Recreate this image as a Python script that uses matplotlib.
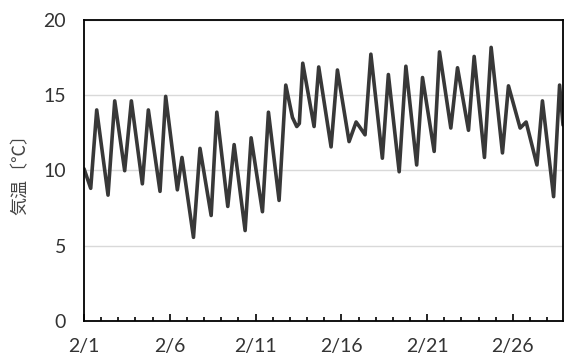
import numpy as np
import matplotlib
matplotlib.use("Agg")
import matplotlib.pyplot as plt
from matplotlib.ticker import MultipleLocator

# Temperature readings (days since 2/1 00:00, degC) at the turning points of the trace
days = [0.0, 0.39, 0.74, 1.40, 1.79, 2.37, 2.76, 3.40, 3.75, 4.43, 4.76, 5.44, 5.71,
        6.38, 6.76, 7.41, 7.74, 8.38, 8.75, 9.39, 9.74, 10.40, 10.75, 11.37, 11.76,
        12.15, 12.40, 12.55, 12.75, 13.41, 13.68, 14.40, 14.77, 15.45, 15.86, 16.05,
        16.38, 16.72, 17.39, 17.74, 18.37, 18.76, 19.39, 19.73, 20.41, 20.72, 21.38,
        21.77, 22.41, 22.74, 23.34, 23.73, 24.39, 24.74, 25.42, 25.77, 26.40, 26.72,
        27.37, 27.72, 27.92]
temps = [10.1, 8.8, 14.0, 8.35, 14.6, 9.97, 14.6, 9.1, 14.0, 8.6, 14.9, 8.7, 10.85,
         5.55, 11.45, 7.0, 13.85, 7.6, 11.7, 6.0, 12.15, 7.25, 13.85, 8.0, 15.65,
         13.5, 12.9, 13.1, 17.1, 12.9, 16.85, 11.55, 16.65, 11.9, 13.2, 12.9,
         12.35, 17.7, 10.8, 16.35, 9.9, 16.9, 10.35, 16.15, 11.25, 17.85, 12.8,
         16.8, 12.65, 17.55, 10.85, 18.15, 11.15, 15.6, 12.8, 13.2, 10.35, 14.6,
         8.25, 15.65, 13.0]

date_labels = ["2/1", "2/6", "2/11", "2/16", "2/21", "2/26"]
label_days = [0, 5, 10, 15, 20, 25]
y_ticks = [0, 5, 10, 15, 20]

plt.rcParams['font.family'] = ['Lato', 'Noto Sans CJK JP', 'DejaVu Sans']

fig = plt.figure(figsize=(5.65, 3.58), dpi=100)
ax = fig.add_axes([0.1487, 0.1034, 0.8478, 0.8421])

ax.plot(days, temps, color="#383838", lw=2.6, solid_joinstyle="round",
        solid_capstyle="round")

ax.set_xlim(0, 27.92)
ax.set_ylim(0, 20)

# y axis
ax.set_yticks(y_ticks)
ax.yaxis.grid(True, color="#d9d9d9", lw=1)
ax.set_axisbelow(True)
ax.tick_params(axis="y", length=0, pad=13, labelsize=14, labelcolor="#333333")

# x axis: daily minor ticks, labels every 5 days
ax.set_xticks(label_days)
ax.set_xticklabels(date_labels)
ax.xaxis.set_minor_locator(MultipleLocator(1))
ax.tick_params(axis="x", which="major", direction="in", length=5, width=1.2,
               pad=12, labelsize=14, labelcolor="#333333")
ax.tick_params(axis="x", which="minor", direction="in", length=3, width=1.2)

for s in ax.spines.values():
    s.set_color("black")
    s.set_linewidth(1.3)

ax.set_ylabel("気温〔℃〕", family=["Noto Sans CJK JP", "DejaVu Sans"],
              fontsize=13, color="#444444", labelpad=10)

fig.savefig("out.png", dpi=100)
